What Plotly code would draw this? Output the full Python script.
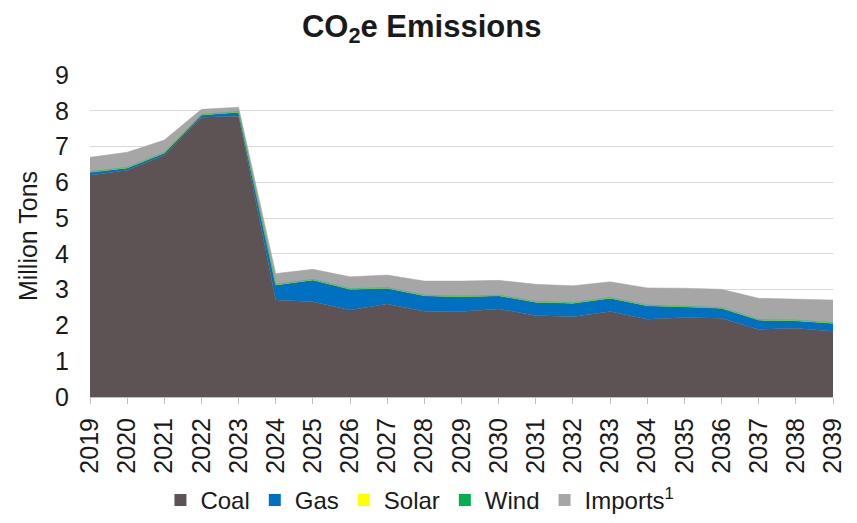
import plotly.graph_objects as go

years = list(range(2019, 2040))
coal = [6.20, 6.34, 6.76, 7.82, 7.85, 2.71, 2.66, 2.43, 2.60, 2.40, 2.39, 2.46, 2.28, 2.24, 2.39, 2.17, 2.22, 2.20, 1.89, 1.92, 1.84]
gas_top = [6.28, 6.40, 6.82, 7.88, 7.96, 3.13, 3.27, 3.01, 3.04, 2.83, 2.80, 2.83, 2.65, 2.62, 2.76, 2.55, 2.52, 2.48, 2.15, 2.13, 2.06]
totals = [6.70, 6.84, 7.18, 8.04, 8.10, 3.45, 3.57, 3.36, 3.41, 3.24, 3.24, 3.26, 3.15, 3.11, 3.22, 3.05, 3.04, 3.01, 2.76, 2.74, 2.71]
solar = [0.005] * 21
wind = [0.01] * 21
gas = [round(g - c, 3) for g, c in zip(gas_top, coal)]
imports = [round(t - g - s - w, 3) for t, g, s, w in zip(totals, gas_top, solar, wind)]

series = [
    ("Coal", coal, "#5D5355"),
    ("Gas", gas, "#0070C0"),
    ("Solar", solar, "#FFFF00"),
    ("Wind", wind, "#00B050"),
    ("Imports<sup>1</sup>", imports, "#A6A6A6"),
]

fig = go.Figure()
for name, vals, col in series:
    fig.add_trace(go.Scatter(
        x=years, y=vals, name=name, stackgroup="one", mode="lines",
        line=dict(width=0.5, color=col), fillcolor=col, showlegend=False,
        hoverinfo="x+y+name"))
for name, vals, col in series:
    fig.add_trace(go.Scatter(
        x=[None], y=[None], name=name, mode="markers",
        marker=dict(symbol="square", size=15, color=col), showlegend=True))

font_family = "Liberation Sans, Arial, sans-serif"
fig.update_layout(
    width=857, height=523,
    margin=dict(l=90, r=24, t=75, b=126),
    paper_bgcolor="white", plot_bgcolor="white",
    font=dict(family=font_family, color="#1a1a1a", size=25),
    title=dict(text="<b>CO<sub>2</sub>e Emissions</b>", x=0.492, xanchor="center",
               xref="container", yref="container",
               y=1 - 26 / 523, yanchor="middle", font=dict(size=31, color="#1a1a1a")),
    xaxis=dict(range=[2019, 2039], tickmode="array", tickvals=years,
               ticktext=[str(y) for y in years], tickangle=-90,
               tickfont=dict(size=25), ticks="outside", ticklen=6,
               tickcolor="#BFBFBF", showline=True, linecolor="#BFBFBF",
               showgrid=False, zeroline=False, automargin=False,
               ticklabelstandoff=4),
    yaxis=dict(range=[0, 9], dtick=1, tickfont=dict(size=25),
               showgrid=True, gridcolor="#D9D9D9", gridwidth=1,
               zeroline=False, showline=False, ticks="", automargin=False,
               ticklabelstandoff=20,
               title=dict(text="Million Tons", font=dict(size=25), standoff=10)),
    legend=dict(orientation="h", xref="container", yref="container",
                x=0.49, xanchor="center", y=-0.014, yanchor="bottom",
                font=dict(size=24), itemsizing="constant", traceorder="normal",
                itemwidth=30),
)

fig.write_html("out.html")
